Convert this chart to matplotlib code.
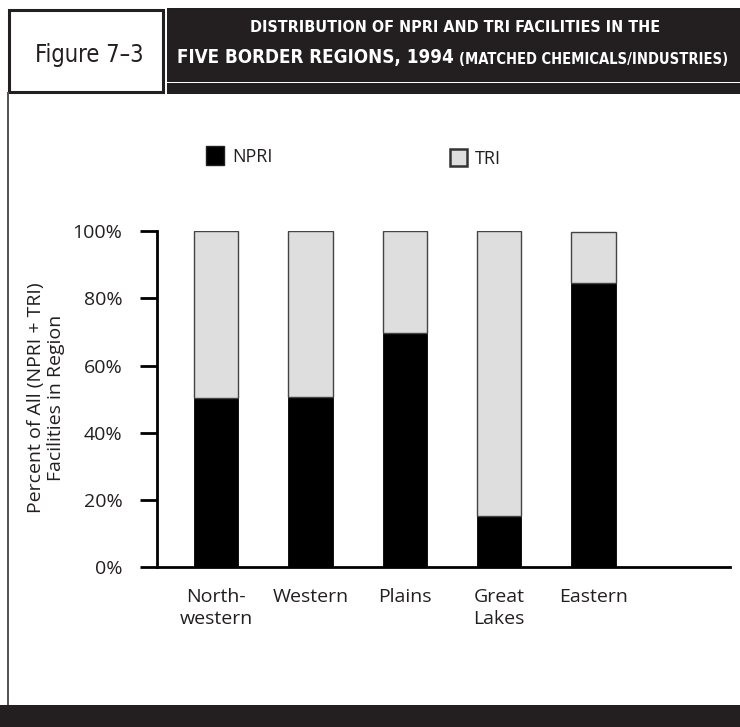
import matplotlib
matplotlib.use("Agg")
import matplotlib.pyplot as plt
from matplotlib.patches import Rectangle

# data
regions = ["North-\nwestern", "Western", "Plains", "Great\nLakes", "Eastern"]
npri = [50.3, 50.7, 69.7, 15.2, 84.6]
tri = [49.7, 49.3, 30.3, 84.8, 15.1]
yticks = [0, 20, 40, 60, 80, 100]
ytick_labels = ["0%", "20%", "40%", "60%", "80%", "100%"]

W, H = 740, 727
DARK = "#231f20"
TRI_GREY = "#dedede"
body_font = "Open Sans"
head_font = ["DejaVu Sans"]

fig = plt.figure(figsize=(W / 100, H / 100), dpi=100)


def px(x, y):
    """pixel coords (top-left origin) -> figure fraction"""
    return x / W, 1 - y / H


def rect(x0, y0, x1, y1, **kw):
    fx, fy = px(x0, y1)
    fig.patches.append(Rectangle((fx, fy), (x1 - x0) / W, (y1 - y0) / H,
                                 transform=fig.transFigure, **kw))


# header
rect(167, 8, 740, 81.5, facecolor=DARK, edgecolor="none")
rect(167, 83.5, 740, 93.5, facecolor=DARK, edgecolor="none")
rect(8.5, 9.5, 163, 92, facecolor="white", edgecolor=DARK, linewidth=2.2)
# panel left border and bottom bar
rect(6.5, 92, 8.5, 705, facecolor="#555555", edgecolor="none")
rect(0, 705, 740, 727, facecolor=DARK, edgecolor="none")

fig.text(*px(89.5, 55), "Figure 7\u20133", family=head_font, fontstretch="condensed",
         fontsize=17, ha="center", va="center", color=DARK)
fig.text(*px(455, 28), "DISTRIBUTION OF NPRI AND TRI FACILITIES IN THE",
         family=head_font, fontstretch="condensed", fontweight="bold",
         fontsize=11.5, color="white", ha="center", va="center")
big = fig.text(*px(177, 58), "FIVE BORDER REGIONS, 1994", family=head_font,
               fontstretch="condensed", fontweight="bold", fontsize=13.5,
               color="white", ha="left", va="center")
fig.canvas.draw()
bb = big.get_window_extent()
fig.text(*px(bb.x1 + 5, 59), "(MATCHED CHEMICALS/INDUSTRIES)", family=head_font,
         fontstretch="condensed", fontweight="bold", fontsize=10.5,
         color="white", ha="left", va="center")

# legend
rect(206, 146, 224, 165, facecolor="black", edgecolor=DARK, linewidth=1)
fig.text(*px(232, 156.5), "NPRI", family=body_font, fontsize=13, ha="left",
         va="center", color=DARK)
rect(450, 149, 467, 166, facecolor=TRI_GREY, edgecolor="#333333", linewidth=1.8)
fig.text(*px(475, 158.5), "TRI", family=body_font, fontsize=13, ha="left",
         va="center", color=DARK)

# chart
ax = fig.add_axes([157 / W, 1 - 567.3 / H, (730 - 157) / W, (567.3 - 231) / H])
x = list(range(len(regions)))
ax.bar(x, npri, width=0.47, color="black", edgecolor="black", linewidth=0.6)
ax.bar(x, tri, width=0.47, bottom=npri, color=TRI_GREY, edgecolor="#444444",
       linewidth=1.0)

ax.set_xlim(-0.625, 5.446)
ax.set_ylim(0, 100)
ax.set_yticks(yticks)
ax.set_yticklabels(ytick_labels, family=body_font, fontsize=14, color=DARK)
ax.set_xticks(x)
ax.set_xticklabels(regions, family=body_font, fontsize=14, color=DARK,
                   linespacing=1.3)
ax.tick_params(axis="y", length=12, width=2, pad=13, color="black")
ax.tick_params(axis="x", length=0, pad=15)
for s in ["top", "right"]:
    ax.spines[s].set_visible(False)
ax.spines["left"].set_linewidth(2)
ax.spines["bottom"].set_linewidth(2)

fig.text(*px(46, 398), "Percent of All (NPRI + TRI)\nFacilities in Region",
         family=body_font, fontsize=14, rotation=90, ha="center",
         va="center", color=DARK, linespacing=1.1, multialignment="center")

fig.savefig("out.png", dpi=100)
